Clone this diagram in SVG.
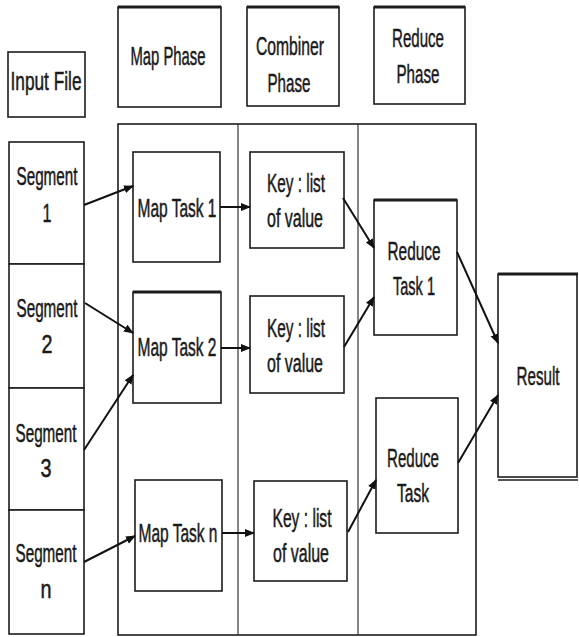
<svg xmlns="http://www.w3.org/2000/svg" width="579" height="637" viewBox="0 0 579 637">
<style>
.box{fill:#fff;stroke:#1c1c1c;stroke-width:1.6}
.thin{fill:none;stroke:#333;stroke-width:1.2}
.t{font-family:"Liberation Sans",Arial,sans-serif;font-size:26px;fill:#1a1a1a;stroke:#1a1a1a;stroke-width:0.5;text-anchor:middle}
.c{stroke:#111;stroke-width:2;fill:none;marker-end:url(#ah)}
.top{stroke:#1c1c1c;stroke-width:3}
</style>
<defs>
<marker id="ah" viewBox="0 0 10 10" refX="9" refY="5" markerWidth="10" markerHeight="10" markerUnits="userSpaceOnUse" orient="auto">
<path d="M0,1 L10,5 L0,9 z" fill="#111"/>
</marker>
</defs>
<rect width="579" height="637" fill="#fff"/>

<g id="container">
<rect x="118" y="124" width="358" height="511" class="box" stroke-width="2"/>
<line x1="238" y1="124" x2="238" y2="635" class="thin"/>
<line x1="358" y1="124" x2="358" y2="635" class="thin"/>
</g>

<g id="input-file"><rect x="8" y="52" width="77" height="65" class="box"/><text x="46" y="90" class="t" textLength="71" lengthAdjust="spacingAndGlyphs">Input File</text></g>
<g id="map-phase"><rect x="118" y="7" width="103" height="100" class="box"/><line x1="118" y1="7" x2="221" y2="7" class="top"/><text x="168" y="65" class="t" textLength="75" lengthAdjust="spacingAndGlyphs">Map Phase</text></g>
<g id="combiner-phase"><rect x="247" y="7" width="92" height="99" class="box"/><line x1="247" y1="7" x2="339" y2="7" class="top"/><text x="290" y="55" class="t" textLength="68" lengthAdjust="spacingAndGlyphs">Combiner</text><text x="289" y="92" class="t" textLength="43" lengthAdjust="spacingAndGlyphs">Phase</text></g>
<g id="reduce-phase"><rect x="374" y="7" width="91" height="97" class="box"/><line x1="374" y1="7" x2="465" y2="7" class="top"/><text x="418" y="47" class="t" textLength="52" lengthAdjust="spacingAndGlyphs">Reduce</text><text x="418" y="83" class="t" textLength="43" lengthAdjust="spacingAndGlyphs">Phase</text></g>

<g id="segment-1"><rect x="9" y="142" width="75" height="122" class="box"/><text x="47" y="185" class="t" textLength="61" lengthAdjust="spacingAndGlyphs">Segment</text><text x="47" y="222" class="t" textLength="9" lengthAdjust="spacingAndGlyphs">1</text></g>
<g id="segment-2"><rect x="9" y="264" width="75" height="124" class="box"/><text x="47" y="317" class="t" textLength="61" lengthAdjust="spacingAndGlyphs">Segment</text><text x="47" y="353" class="t" textLength="11" lengthAdjust="spacingAndGlyphs">2</text></g>
<g id="segment-3"><rect x="9" y="388" width="75" height="122" class="box"/><text x="46" y="442" class="t" textLength="61" lengthAdjust="spacingAndGlyphs">Segment</text><text x="46" y="477" class="t" textLength="11" lengthAdjust="spacingAndGlyphs">3</text></g>
<g id="segment-n"><rect x="9" y="510" width="75" height="124" class="box"/><text x="46" y="562" class="t" textLength="61" lengthAdjust="spacingAndGlyphs">Segment</text><text x="46" y="598" class="t" textLength="11" lengthAdjust="spacingAndGlyphs">n</text></g>

<g id="map-task-1"><rect x="133" y="152" width="87" height="110" class="box"/><text x="177" y="217" class="t" textLength="79" lengthAdjust="spacingAndGlyphs">Map Task 1</text></g>
<g id="map-task-2"><rect x="133" y="292" width="88" height="111" class="box"/><line x1="133" y1="292" x2="221" y2="292" class="top"/><text x="177" y="356" class="t" textLength="79" lengthAdjust="spacingAndGlyphs">Map Task 2</text></g>
<g id="map-task-n"><rect x="135" y="480" width="87" height="111" class="box"/><text x="178" y="542" class="t" textLength="79" lengthAdjust="spacingAndGlyphs">Map Task n</text></g>

<g id="key-1"><rect x="250" y="152" width="94" height="96" class="box"/><text x="296" y="192" class="t" textLength="58" lengthAdjust="spacingAndGlyphs">Key : list</text><text x="295" y="227" class="t" textLength="56" lengthAdjust="spacingAndGlyphs">of value</text></g>
<g id="key-2"><rect x="250" y="296" width="94" height="97" class="box"/><text x="296" y="337" class="t" textLength="58" lengthAdjust="spacingAndGlyphs">Key : list</text><text x="295" y="372" class="t" textLength="56" lengthAdjust="spacingAndGlyphs">of value</text></g>
<g id="key-n"><rect x="254" y="481" width="93" height="100" class="box"/><text x="302" y="527" class="t" textLength="59" lengthAdjust="spacingAndGlyphs">Key : list</text><text x="301" y="562" class="t" textLength="56" lengthAdjust="spacingAndGlyphs">of value</text></g>

<g id="reduce-task-1"><rect x="374" y="200" width="83" height="135" class="box"/><line x1="374" y1="200" x2="457" y2="200" class="top"/><text x="414" y="260" class="t" textLength="53" lengthAdjust="spacingAndGlyphs">Reduce</text><text x="414" y="295" class="t" textLength="42" lengthAdjust="spacingAndGlyphs">Task 1</text></g>
<g id="reduce-task"><rect x="376" y="398" width="82" height="135" class="box"/><text x="413" y="467" class="t" textLength="52" lengthAdjust="spacingAndGlyphs">Reduce</text><text x="413" y="502" class="t" textLength="32" lengthAdjust="spacingAndGlyphs">Task</text></g>

<g id="result"><rect x="498" y="274" width="79" height="203" class="box"/><line x1="498" y1="274" x2="578" y2="274" class="top"/><line x1="498" y1="480" x2="578" y2="480" stroke="#1c1c1c" stroke-width="1.5"/><text x="538" y="385" class="t" textLength="43" lengthAdjust="spacingAndGlyphs">Result</text></g>

<g id="connectors">
<line x1="84" y1="205" x2="133" y2="186" class="c"/>
<line x1="85" y1="303" x2="133" y2="333" class="c"/>
<line x1="84" y1="450" x2="133" y2="375" class="c"/>
<line x1="84" y1="562" x2="135" y2="536" class="c"/>
<line x1="220" y1="207" x2="250" y2="207" class="c"/>
<line x1="221" y1="348" x2="250" y2="348" class="c"/>
<line x1="222" y1="533" x2="254" y2="533" class="c"/>
<line x1="343" y1="198" x2="374" y2="248" class="c"/>
<line x1="344" y1="347" x2="374" y2="297" class="c"/>
<line x1="348" y1="532" x2="376" y2="480" class="c"/>
<line x1="457" y1="252" x2="498" y2="343" class="c"/>
<line x1="458" y1="463" x2="498" y2="395" class="c"/>
</g>
</svg>
